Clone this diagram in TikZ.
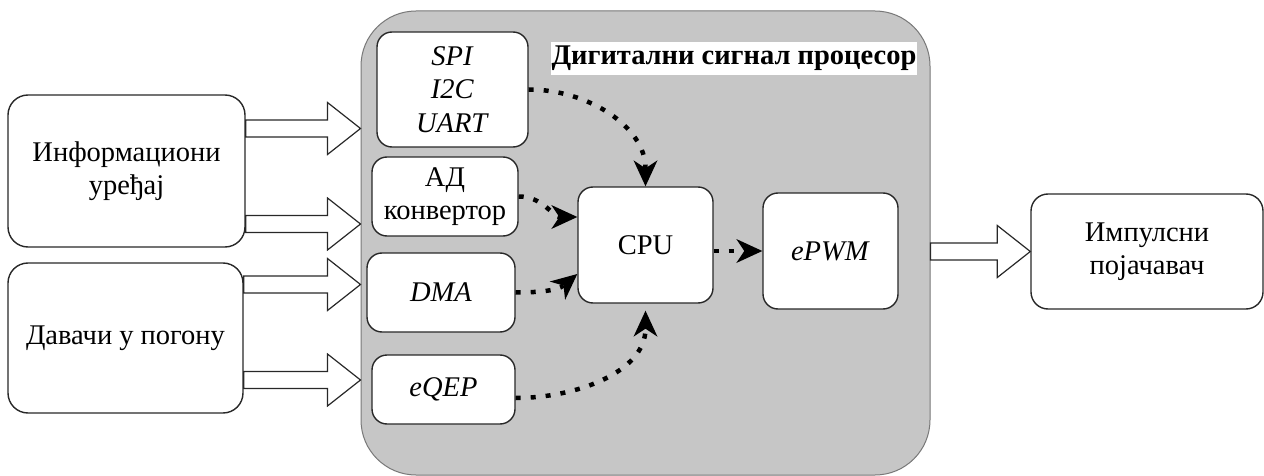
\documentclass[tikz,border=0pt]{standalone}
\usepackage{fontspec}
\setmainfont{Liberation Serif}
\usetikzlibrary{arrows.meta,calc}
\definecolor{dspgray}{RGB}{198,198,198}
\definecolor{dspline}{RGB}{120,120,120}
\definecolor{boxline}{RGB}{40,40,40}
% hollow block arrow between two points at the same height
\newcommand\hollowarrow[2]{%
  \draw[fatarrow] let \p1=(#1), \p2=(#2) in
    (\x1,\y1+8.5pt) -- (\x2-33pt,\y1+8.5pt) -- (\x2-33pt,\y1+26pt) -- (\x2,\y1)
    -- (\x2-33pt,\y1-26pt) -- (\x2-33pt,\y1-8.5pt) -- (\x1,\y1-8.5pt) -- cycle;}
\begin{document}
\begin{tikzpicture}[x=1pt,y=-1pt,
  every node/.style={font=\fontsize{28.5}{33.5}\selectfont, align=center, inner sep=0pt},
  box/.style={draw=boxline, line width=1.4pt, fill=white, rounded corners=15pt},
  outerbox/.style={box, rounded corners=20pt},
  bigbox/.style={draw=dspline, line width=1pt, fill=dspgray, rounded corners=55pt,
    minimum width=569pt, minimum height=464pt},
  titlebox/.style={fill=white, font=\fontsize{28.5}{33.5}\selectfont\bfseries,
    minimum height=33pt, inner xsep=1pt},
  fatarrow/.style={draw=boxline, line width=1.2pt, fill=white, line join=miter},
  flow/.style={line width=4.5pt, dash pattern=on 5pt off 10pt,
    -{Stealth[length=26pt,width=24pt,inset=8pt,line width=0pt]}}
]
\useasboundingbox (0,0) rectangle (1264,476);

% processor block
\node[bigbox] (dsp) at (645.5,243) {};
\node[titlebox] (ttl) at (734,58.5) {Дигитални сигнал процесор};

% outer devices
\node[outerbox, minimum width=237pt, minimum height=152pt] (info) at (126.5,171) {Информациони\\уређај};
\node[outerbox, minimum width=235pt, minimum height=150pt] (dav) at (125.5,338) {Давачи у погону};
\node[outerbox, rounded corners=17pt, minimum width=232pt, minimum height=115pt] (imp) at (1147,251.5) {Импулсни\\појачавач};

% peripherals inside the processor
\node[box, minimum width=151pt, minimum height=115pt] (spi) at (452.5,89.5) {\textit{SPI}\\\textit{I2C}\\\textit{UART}};
\node[box, minimum width=146pt, minimum height=79pt] (adc) at (445,196.5) {АД\\конвертор};
\node[box, minimum width=148pt, minimum height=79pt] (dma) at (441,292.5) {\textit{DMA}};
\node[box, minimum width=143pt, minimum height=69pt] (eqep) at (443.5,389.5) {\textit{eQEP}};
\node[box, minimum width=135pt, minimum height=116pt] (cpu) at (645.5,245) {CPU};
\node[box, minimum width=135pt, minimum height=116pt] (epwm) at (830.5,251) {\textit{ePWM}};

% block arrows into and out of the processor
\coordinate (a1) at ([yshift=42.5pt]info.east);
\coordinate (a2) at ([yshift=-53pt]info.east);
\coordinate (a3) at ([yshift=53.5pt]dav.east);
\coordinate (a4) at ([yshift=-42pt]dav.east);
\hollowarrow{a1}{dsp.west |- a1}
\hollowarrow{a2}{dsp.west |- a2}
\hollowarrow{a3}{dsp.west |- a3}
\hollowarrow{a4}{dsp.west |- a4}
\hollowarrow{dsp.east |- imp.west}{imp.west}

% internal data paths
\draw[flow] (spi.east) to[out=0,in=90] (cpu.north);
\draw[flow] (adc.east) to[out=0,in=180] ([yshift=28pt]cpu.west);
\draw[flow] (dma.east) to[out=0,in=220] ([yshift=-29pt]cpu.west);
\draw[flow] ([yshift=-8.5pt]eqep.east) to[out=0,in=-90] ([yshift=-7pt]cpu.south);
\draw[flow] (cpu.east |- epwm.west) -- (epwm.west);
\end{tikzpicture}
\end{document}
